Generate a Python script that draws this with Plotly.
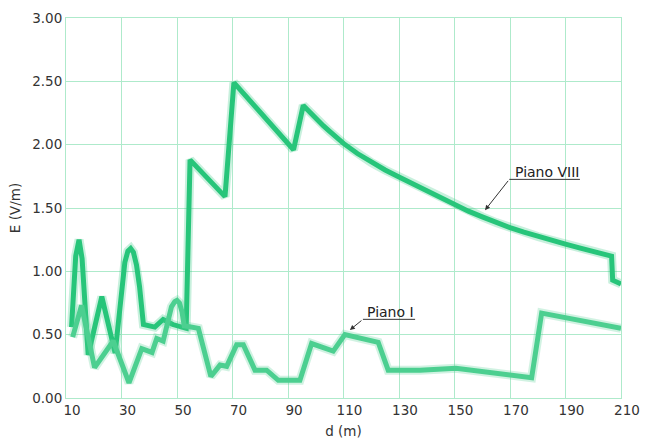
import plotly.graph_objects as go

# Piano VIII (upper series)
d_viii = [12.0, 13.5, 14.7, 15.8, 18.0, 22.9, 27.7, 28.8, 30.0, 31.2, 32.3, 33.3, 34.3, 35.4,
          36.5, 37.4, 37.9, 42.0, 45.0, 48.5, 53.3, 54.7, 67.3, 70.5, 92.0, 95.5, 98.0,
          100.0, 102.7, 105.0, 110.0, 115.0, 120.0, 125.0, 130.0, 135.0, 140.0, 145.0,
          150.0, 155.0, 160.0, 165.0, 170.0, 175.0, 180.0, 185.0, 190.0, 195.0, 200.0,
          206.6, 207.0, 210.0]
e_viii = [0.56, 1.12, 1.25, 1.10, 0.34, 0.80, 0.355, 0.58, 0.88, 1.07, 1.16, 1.18, 1.15, 1.05,
          0.88, 0.68, 0.58, 0.56, 0.62, 0.58, 0.55, 1.88, 1.59, 2.49, 1.96, 2.31, 2.25,
          2.205, 2.15, 2.105, 2.01, 1.93, 1.86, 1.80, 1.745, 1.69, 1.635, 1.58,
          1.525, 1.475, 1.43, 1.385, 1.345, 1.31, 1.275, 1.245, 1.215, 1.185, 1.155,
          1.12, 0.93, 0.90]

# Piano I (lower series)
d_i = [12.4, 15.6, 20.3, 27.0, 32.7, 37.3, 41.0, 42.7, 45.0, 46.5, 48.0, 49.2, 50.0, 50.9,
       51.8, 52.6, 55.5, 57.7, 62.2, 65.5, 67.9, 71.5, 73.9, 78.1, 82.3, 86.5, 94.3, 98.5,
       106.3, 110.5, 122.5, 126.1, 137.6, 150.5, 177.8, 181.4, 210.0]
e_i = [0.48, 0.73, 0.24, 0.45, 0.12, 0.39, 0.36, 0.47, 0.45, 0.60, 0.72, 0.76, 0.77, 0.75,
       0.68, 0.57, 0.56, 0.55, 0.17, 0.26, 0.25, 0.42, 0.42, 0.22, 0.22, 0.14, 0.14, 0.43,
       0.37, 0.50, 0.44, 0.22, 0.22, 0.235, 0.16, 0.67, 0.55]

x_ticks = [10, 30, 50, 70, 90, 110, 130, 150, 170, 190, 210]
y_ticks = [0.0, 0.5, 1.0, 1.5, 2.0, 2.5, 3.0]

c_viii = "#27c57a"
c_i = "#4ccf90"
grid_c = "#aeeacb"
font_c = "#333333"

fig = go.Figure()
for xs, ys, c in [(d_viii, e_viii, c_viii), (d_i, e_i, c_i)]:
    fig.add_trace(go.Scatter(x=xs, y=ys, mode="lines", line=dict(color=c, width=9),
                             opacity=0.25, hoverinfo="skip", showlegend=False))
    fig.add_trace(go.Scatter(x=xs, y=ys, mode="lines", line=dict(color=c, width=5),
                             showlegend=False))

# labels with leader lines
labels = [
    dict(text="Piano I", tx=126.8, ty=0.681, ux0=117.0, ux1=135.8, uy=0.621, tipx=112.3, tipy=0.537),
    dict(text="Piano VIII", tx=183.3, ty=1.786, ux0=169.75, ux1=195.2, uy=1.726, tipx=161.0, tipy=1.483),
]
for lb in labels:
    fig.add_annotation(x=lb["tx"], y=lb["ty"], text=lb["text"], showarrow=False,
                       font=dict(family="DejaVu Sans", size=14, color="#222"))
    fig.add_shape(type="line", x0=lb["ux0"], x1=lb["ux1"], y0=lb["uy"], y1=lb["uy"],
                  line=dict(color="#333", width=1))
    fig.add_annotation(x=lb["tipx"], y=lb["tipy"], ax=lb["ux0"], ay=lb["uy"],
                       axref="x", ayref="y", text="", showarrow=True,
                       arrowhead=2, arrowsize=1, arrowwidth=1, arrowcolor="#333")

fig.update_layout(
    width=648, height=439,
    margin=dict(l=66, r=27, t=18, b=41),
    paper_bgcolor="white", plot_bgcolor="white",
    font=dict(family="DejaVu Sans", size=13.5, color=font_c),
)
fig.update_xaxes(range=[10, 210], tickvals=x_ticks, ticktext=[str(v) for v in x_ticks],
                 showgrid=True, gridcolor=grid_c, gridwidth=1, automargin=False,
                 showline=True, linecolor=grid_c, mirror=True, zeroline=False,
                 ticks="", ticklabelshift=6,
                 title=dict(text="d (m)", standoff=11, font=dict(size=13.5)))
fig.update_yaxes(range=[0, 3], tickvals=y_ticks, ticktext=[f"{v:.2f}" for v in y_ticks],
                 showgrid=True, gridcolor=grid_c, gridwidth=1, automargin=False,
                 showline=True, linecolor=grid_c, mirror=True, zeroline=False,
                 ticks="",
                 title=dict(text="E (V/m)", standoff=8, font=dict(size=13.5)))

fig.write_html("out.html", config={"displayModeBar": False},
               post_script="document.body.style.margin='0';document.body.style.overflow='hidden';")
